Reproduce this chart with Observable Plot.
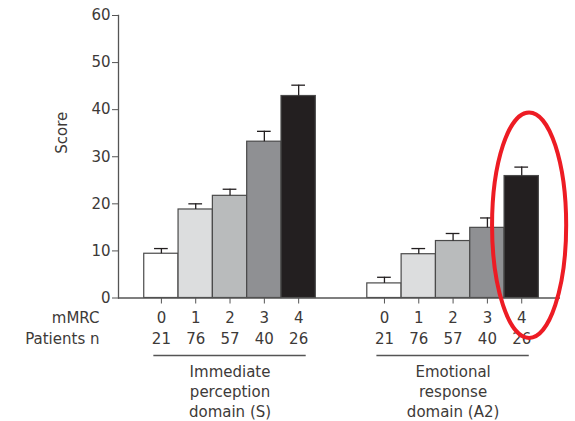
<!DOCTYPE html>
<html>
<head>
<meta charset="utf-8">
<script src="https://cdn.jsdelivr.net/npm/d3@7"></script>
<script src="https://cdn.jsdelivr.net/npm/@observablehq/plot@0.6"></script>
<style>
  html, body { margin: 0; padding: 0; background: #fff; }
</style>
</head>
<body>
<div id="chart"></div>
<script>
// ---- data ----
const groupLabels = ["Immediate\nperception\ndomain (S)", "Emotional\nresponse\ndomain (A2)"];
const mmrcGrades = [0, 1, 2, 3, 4];
const patientsN = [21, 76, 57, 40, 26];
const scoreS = [9.4, 18.8, 21.7, 33.2, 42.9];
const errS = [1.1, 1.2, 1.4, 2.2, 2.3];
const scoreA2 = [3.1, 9.3, 12.1, 14.9, 25.9];
const errA2 = [1.3, 1.2, 1.6, 2.1, 1.9];
const yTicks = [0, 10, 20, 30, 40, 50, 60];
const gradeColors = ["#ffffff", "#dcddde", "#b9bbbc", "#8f9093", "#231f20"];
// highlighted bar: Emotional response domain, mMRC 4
const highlight = [{group: 1, mmrc: 4}];

// ---- build table ----
const groupGap = 6.5; // slot offset of 2nd group
const rows = [];
[[scoreS, errS], [scoreA2, errA2]].forEach(([sc, er], g) => {
  mmrcGrades.forEach((m, i) => {
    rows.push({group: g, mmrc: m, n: patientsN[i], score: sc[i], err: er[i], pos: i + g * groupGap});
  });
});
const groups = groupLabels.map((label, g) => ({label, g, start: g * groupGap, mid: g * groupGap + 2, end: g * groupGap + 4}));

const axisColor = "#555";
const textColor = "#3d3a38";

const chart = Plot.plot({
  width: 575,
  height: 421,
  marginLeft: 118,
  marginRight: 15,
  marginTop: 15,
  marginBottom: 123.5,
  x: {domain: [-1.25, 11.63], axis: null},
  y: {domain: [0, 60], axis: null},
  style: {fontFamily: "DejaVu Sans", fontSize: "15px", color: textColor, background: "white", overflow: "visible"},
  marks: [
    Plot.rect(rows, {
      x1: d => d.pos - 0.5, x2: d => d.pos + 0.5, y1: 0, y2: "score",
      fill: d => gradeColors[d.mmrc], stroke: "#4a4a4a", strokeWidth: 1.2
    }),
    Plot.ruleX(rows, {x: "pos", y1: "score", y2: d => d.score + d.err, stroke: "#231f20", strokeWidth: 1.3}),
    Plot.ruleY(rows, {y: d => d.score + d.err, x1: d => d.pos - 0.2, x2: d => d.pos + 0.2, stroke: "#231f20", strokeWidth: 1.3}),
    Plot.ruleY([0], {stroke: axisColor, strokeWidth: 1.3}),
    Plot.frame({anchor: "left", stroke: axisColor, strokeWidth: 1.3}),
    Plot.axisY({ticks: yTicks, tickSize: 6, tickPadding: 2, label: null, stroke: axisColor, fill: textColor, fontSize: 15}),
    Plot.axisX({ticks: rows.map(d => d.pos), tickSize: 6, tickFormat: () => "", label: null, stroke: axisColor}),
    Plot.text(["Score"], {frameAnchor: "left", text: d => d, rotate: -90, dx: -56, dy: -3, fill: textColor}),
    Plot.text(rows, {x: "pos", y: 0, text: d => String(d.mmrc), dy: 20, fill: textColor}),
    Plot.text(rows, {x: "pos", y: 0, text: d => String(d.n), dy: 41, fill: textColor}),
    Plot.text(["mMRC"], {frameAnchor: "bottom-left", lineAnchor: "middle", text: d => d, dx: -19, dy: 20, textAnchor: "end", fill: textColor}),
    Plot.text(["Patients n"], {frameAnchor: "bottom-left", lineAnchor: "middle", text: d => d, dx: -19, dy: 41, textAnchor: "end", fill: textColor}),
    Plot.ruleY(groups, {y: 0, x1: d => d.start - 0.22, x2: d => d.end + 0.22, dy: 57.5, stroke: axisColor, strokeWidth: 1.5}),
    Plot.text(groups, {x: "mid", y: 0, text: "label", dy: 92.5, lineHeight: 1.36, fill: textColor}),
    // red highlight ellipse around the chosen bar
    Plot.rect(highlight, {
      x1: d => d.mmrc + d.group * groupGap - 0.85,
      x2: d => d.mmrc + d.group * groupGap + 1.31,
      y1: -8.6, y2: 39.3,
      render(index, scales, values) {
        const g = d3.create("svg:g");
        for (const i of index) {
          const X1 = values.x1[i], X2 = values.x2[i], Y1 = values.y1[i], Y2 = values.y2[i];
          g.append("ellipse")
            .attr("cx", (X1 + X2) / 2).attr("cy", (Y1 + Y2) / 2)
            .attr("rx", Math.abs(X2 - X1) / 2).attr("ry", Math.abs(Y2 - Y1) / 2)
            .attr("fill", "none").attr("stroke", "#ed1c24").attr("stroke-width", 4);
        }
        return g.node();
      }
    })
  ]
});
document.getElementById("chart").appendChild(chart);
</script>
</body>
</html>
